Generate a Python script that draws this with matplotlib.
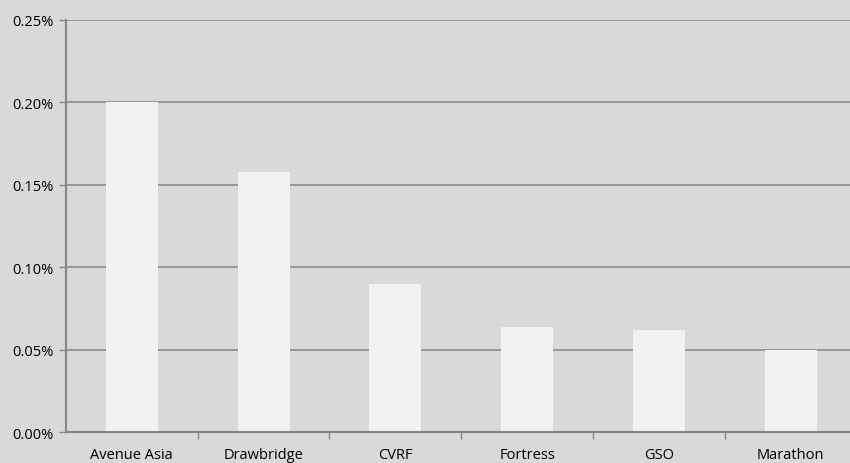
import matplotlib.pyplot as plt
import numpy as np
from matplotlib.ticker import FuncFormatter, FixedLocator

# data
categories = ["Avenue Asia", "Drawbridge", "CVRF", "Fortress", "GSO", "Marathon"]
values = [0.200, 0.158, 0.090, 0.064, 0.062, 0.050]  # percent
y_ticks = [0.00, 0.05, 0.10, 0.15, 0.20, 0.25]

bg = "#d9d9d9"
bar_color = "#f2f2f2"
line_color = "#868686"

plt.rcParams["font.family"] = ["Open Sans", "DejaVu Sans"]

fig = plt.figure(figsize=(8.5, 4.64), dpi=100, facecolor=bg)
ax = fig.add_axes([0.0776, 0.0668, 0.93, 0.888])
ax.set_facecolor(bg)

x = np.arange(len(categories))
ax.bar(x, values, width=0.395, color=bar_color, zorder=3)

ax.set_xlim(-0.5, len(categories) - 0.5)
ax.set_ylim(0, 0.25)
ax.set_yticks(y_ticks)
ax.yaxis.set_major_formatter(FuncFormatter(lambda v, p: f"{v:.2f}%"))
ax.grid(axis="y", color=line_color, linewidth=1.1, zorder=1)

ax.set_xticks(x)
ax.set_xticklabels(categories)
ax.xaxis.set_minor_locator(FixedLocator(np.arange(0.5, len(categories) - 0.5, 1)))
ax.tick_params(axis="x", which="major", length=0, pad=11, labelsize=10.5, colors="black")
ax.tick_params(axis="x", which="minor", length=5, width=1, color=line_color, direction="out")
ax.tick_params(axis="y", length=5, width=1, color=line_color, labelsize=10.5, pad=4)

for side in ["top", "right"]:
    ax.spines[side].set_visible(False)
for side in ["left", "bottom"]:
    ax.spines[side].set_color(line_color)
    ax.spines[side].set_linewidth(1.5)
    ax.spines[side].set_zorder(4)

fig.savefig("out.png", dpi=100, facecolor=bg)
